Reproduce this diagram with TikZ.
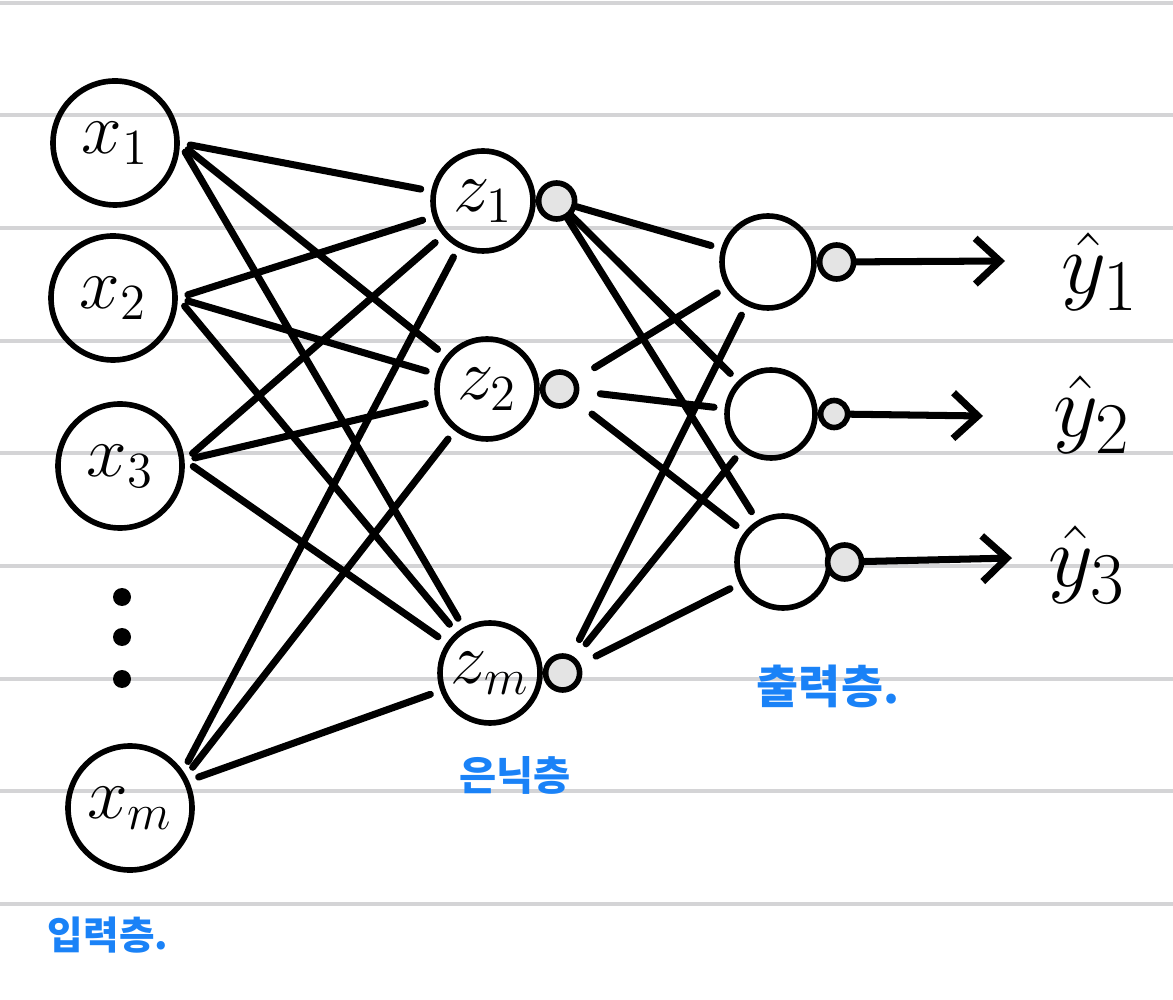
\documentclass[tikz,border=0pt]{standalone}
\usepackage{fontspec}
\newfontfamily\kofont{Noto Sans CJK KR}
\usetikzlibrary{positioning,arrows.meta}

\definecolor{ruleline}{HTML}{D4D4D6}
\definecolor{penblue}{HTML}{1A82F7}
\definecolor{biasgray}{HTML}{E4E4E4}

\tikzset{
  neuron/.style={draw, circle, line width=1.6pt, inner sep=0pt, font=\huge},
  innode/.style={neuron, minimum size=1.24cm},
  hidnode/.style={neuron, minimum size=1cm},
  outnode/.style={neuron, minimum size=0.92cm},
  bias/.style={draw, circle, line width=1.6pt, fill=biasgray, inner sep=0pt, minimum size=0.36cm},
  dotnode/.style={circle, fill=black, inner sep=0pt, minimum size=0.18cm},
  wire/.style={line width=2pt, line cap=round, shorten <=3pt, shorten >=3pt},
  outarrow/.style={line width=2pt, line cap=round, -{Straight Barb[length=7pt,width=13pt]}},
  layername/.style={text=penblue, font=\kofont\bfseries\fontsize{11}{13}\selectfont},
}

\begin{document}
\begin{tikzpicture}

\useasboundingbox (0,0) rectangle (11.73,-10);

% ruled paper
\draw[ruleline, line width=0.9pt] (0,-0.03) -- (11.73,-0.03);
\draw[ruleline, line width=0.9pt] (0,-1.15) -- (11.73,-1.15);
\draw[ruleline, line width=0.9pt] (0,-2.28) -- (11.73,-2.28);
\draw[ruleline, line width=0.9pt] (0,-3.41) -- (11.73,-3.41);
\draw[ruleline, line width=0.9pt] (0,-4.53) -- (11.73,-4.53);
\draw[ruleline, line width=0.9pt] (0,-5.66) -- (11.73,-5.66);
\draw[ruleline, line width=0.9pt] (0,-6.79) -- (11.73,-6.79);
\draw[ruleline, line width=0.9pt] (0,-7.91) -- (11.73,-7.91);
\draw[ruleline, line width=0.9pt] (0,-9.04) -- (11.73,-9.04);

% input layer
\node[innode] (x1) at (1.15,-1.43) {$x_1$};
\node[innode] (x2) at (1.13,-2.98) {$x_2$};
\node[innode] (x3) at (1.20,-4.66) {$x_3$};
\node[dotnode] (d1) at (1.22,-5.97) {};
\node[dotnode] (d2) at (1.22,-6.37) {};
\node[dotnode] (d3) at (1.22,-6.79) {};
\node[innode] (xm) at (1.30,-8.08) {$x_m$};

% hidden layer
\node[hidnode] (z1) at (4.83,-2.01) {$z_1$};
\node[hidnode] (z2) at (4.87,-3.89) {$z_2$};
\node[hidnode] (zm) at (4.90,-6.73) {$z_m$};
\node[bias, right=0pt of z1] (zb1) {};
\node[bias, minimum size=0.34cm, right=0pt of z2] (zb2) {};
\node[bias, minimum size=0.34cm, right=0pt of zm] (zbm) {};

% output layer
\node[outnode] (o1) at (7.68,-2.62) {};
\node[outnode, minimum size=0.88cm] (o2) at (7.71,-4.14) {};
\node[outnode] (o3) at (7.83,-5.62) {};
\node[bias, minimum size=0.34cm, right=0pt of o1] (ob1) {};
\node[bias, minimum size=0.27cm, right=0pt of o2] (ob2) {};
\node[bias, minimum size=0.34cm, right=-2pt of o3] (ob3) {};

\coordinate (y1end) at (10.05,-2.61);
\coordinate (y2end) at (9.83,-4.16);
\coordinate (y3end) at (10.12,-5.58);

\node[font=\Huge] (y1) at (11.0,-2.72) {$\hat{y}_1$};
\node[font=\Huge] (y2) at (10.92,-4.15) {$\hat{y}_2$};
\node[font=\Huge] (y3) at (10.87,-5.65) {$\hat{y}_3$};

% input to hidden
\draw[wire] (x1.east) -- (z1);
\draw[wire] (x1.east) -- (z2);
\draw[wire] (x1.east) -- (zm);
\draw[wire] (x2.east) -- (z1);
\draw[wire] (x2.east) -- (z2);
\draw[wire] (x2.east) -- (zm);
\draw[wire] (x3.5) -- (z1);
\draw[wire] (x3.5) -- (z2);
\draw[wire] (x3.5) -- (zm);
\draw[wire] (xm.35) -- (z1);
\draw[wire] (xm.30) -- (z2);
\draw[wire] (xm.25) -- (zm);

% hidden to output
\draw[wire, shorten <=0pt] (zb1) -- (o1);
\draw[wire, shorten <=0pt] (zb1) -- (o2);
\draw[wire, shorten <=0pt] (zb1) -- (o3);
\draw[wire, shorten <=6pt] (zb2) -- (o1);
\draw[wire, shorten <=6pt] (zb2) -- (o2);
\draw[wire, shorten <=6pt] (zb2) -- (o3);
\draw[wire, shorten <=5pt] (zbm) -- (o1);
\draw[wire, shorten <=5pt] (zbm) -- (o2);
\draw[wire, shorten <=5pt] (zbm) -- (o3);

% outputs
\draw[outarrow] (ob1) -- (y1end);
\draw[outarrow] (ob2) -- (y2end);
\draw[outarrow] (ob3) -- (y3end);

% layer names
\node[layername] (inname) at (1.08,-9.35) {입력층.};
\node[layername, font=\kofont\bfseries\fontsize{11.5}{13}\selectfont] (hidname) at (5.15,-7.75) {은닉층};
\node[layername, font=\kofont\bfseries\fontsize{13}{15}\selectfont] (outname) at (8.28,-6.86) {출력층.};

\end{tikzpicture}
\end{document}
